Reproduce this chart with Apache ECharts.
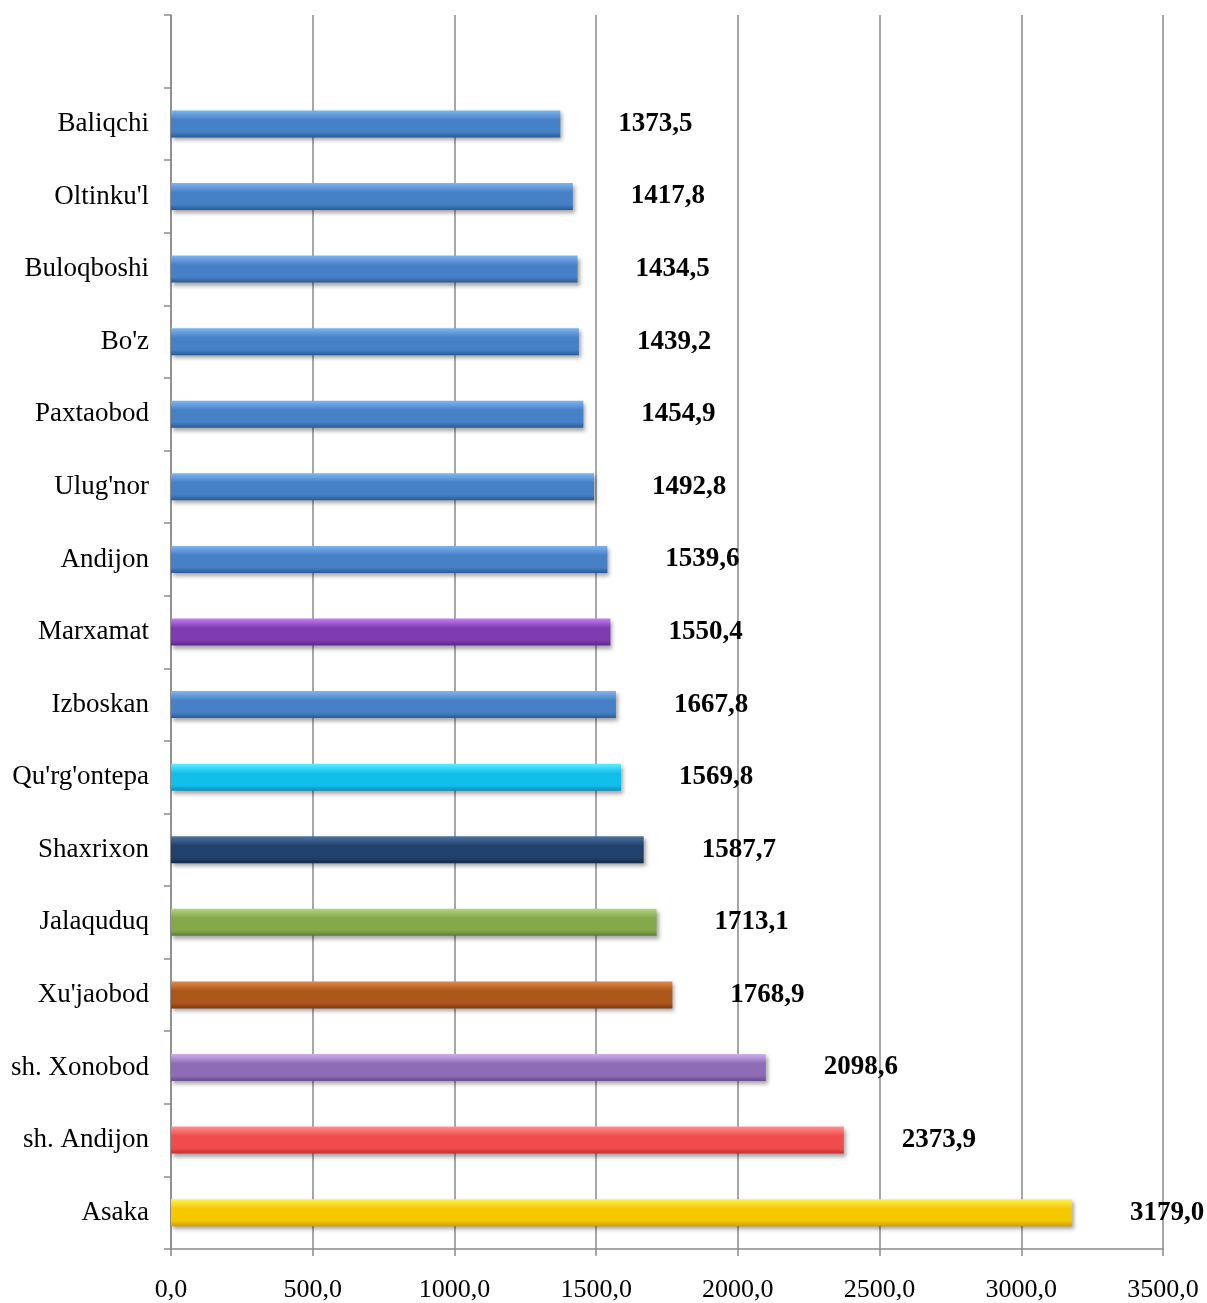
<!DOCTYPE html>
<html>
<head>
<meta charset="utf-8">
<script src="https://cdn.jsdelivr.net/npm/echarts@6/dist/echarts.min.js"></script>
<style>html,body{margin:0;padding:0;background:#fff}#c{width:1207px;height:1303px}</style>
</head>
<body>
<div id="c"></div>
<script>
// Categories from top to bottom (first slot of the axis is empty in the original)
const categories = ["Baliqchi","Oltinku'l","Buloqboshi","Bo'z","Paxtaobod","Ulug'nor","Andijon","Marxamat","Izboskan","Qu'rg'ontepa","Shaxrixon","Jalaquduq","Xu'jaobod","sh. Xonobod","sh. Andijon","Asaka"];
// Bar lengths as drawn
const values = [1373.5,1417.8,1434.5,1439.2,1454.9,1492.8,1539.6,1550.4,1569.8,1587.7,1667.8,1713.1,1768.9,2098.6,2373.9,3179.0];
// Data labels as printed beside each bar
const valueLabels = ["1373,5","1417,8","1434,5","1439,2","1454,9","1492,8","1539,6","1550,4","1667,8","1569,8","1587,7","1713,1","1768,9","2098,6","2373,9","3179,0"];
// Bar colours: [light top, base, dark bottom]
const barColors = [
  ["#7fb4ee","#4680c6","#2b5a94"],["#7fb4ee","#4680c6","#2b5a94"],["#7fb4ee","#4680c6","#2b5a94"],
  ["#7fb4ee","#4680c6","#2b5a94"],["#7fb4ee","#4680c6","#2b5a94"],["#7fb4ee","#4680c6","#2b5a94"],
  ["#7fb4ee","#4680c6","#2b5a94"],["#c47ef2","#7e3cb0","#5c2686"],["#7fb4ee","#4680c6","#2b5a94"],
  ["#5cf0ff","#12bfea","#0891bd"],["#4f72a0","#21416c","#142a4a"],["#b4d27e","#84a84c","#5e7e32"],
  ["#de8a4a","#ad561a","#7e3a0c"],["#cdb0ec","#8f6cb6","#6a4c8e"],["#ff8f8f","#f04c4c","#c02e2e"],
  ["#fff35a","#f6c800","#d09e00"]
];
const xMin = 0, xMax = 3500, xInterval = 500;

const chart = echarts.init(document.getElementById('c'));
const data = [{value: null}].concat(values.map((v, i) => ({
  value: v,
  itemStyle: {
    color: new echarts.graphic.LinearGradient(0, 0, 0, 1, [
      {offset: 0, color: barColors[i][0]},
      {offset: 0.35, color: barColors[i][1]},
      {offset: 0.8, color: barColors[i][1]},
      {offset: 1, color: barColors[i][2]}
    ])
  }
})));

chart.setOption({
  animation: false,
  backgroundColor: '#fff',
  grid: {left: 171, right: 44, top: 15, bottom: 53, containLabel: false},
  xAxis: {
    type: 'value', min: xMin, max: xMax, interval: xInterval,
    axisLine: {show: true, lineStyle: {color: '#8a8a8a', width: 1.5}},
    axisTick: {show: true, length: 7, lineStyle: {color: '#8a8a8a', width: 1.5}},
    splitLine: {show: true, lineStyle: {color: '#8a8a8a', width: 1.5}},
    axisLabel: {
      margin: 28, color: '#000', fontFamily: 'Liberation Serif', fontSize: 26,
      formatter: v => v.toFixed(1).replace('.', ',')
    }
  },
  yAxis: {
    type: 'category', inverse: true,
    data: [''].concat(categories),
    axisLine: {show: true, lineStyle: {color: '#8a8a8a', width: 1.5}},
    axisTick: {show: true, length: 7, interval: 0, lineStyle: {color: '#8a8a8a', width: 1.5}},
    axisLabel: {margin: 22, color: '#000', fontFamily: 'Liberation Serif', fontSize: 27, interval: 0}
  },
  series: [{
    type: 'bar',
    barWidth: 27,
    data: data,
    itemStyle: {shadowColor: 'rgba(0,0,0,0.35)', shadowBlur: 4, shadowOffsetX: 2, shadowOffsetY: 3},
    label: {
      show: true, position: 'right', distance: 58,
      color: '#000', fontFamily: 'Liberation Serif', fontWeight: 'bold', fontSize: 27,
      formatter: p => p.dataIndex > 0 ? valueLabels[p.dataIndex - 1] : ''
    }
  }]
});
</script>
</body>
</html>
